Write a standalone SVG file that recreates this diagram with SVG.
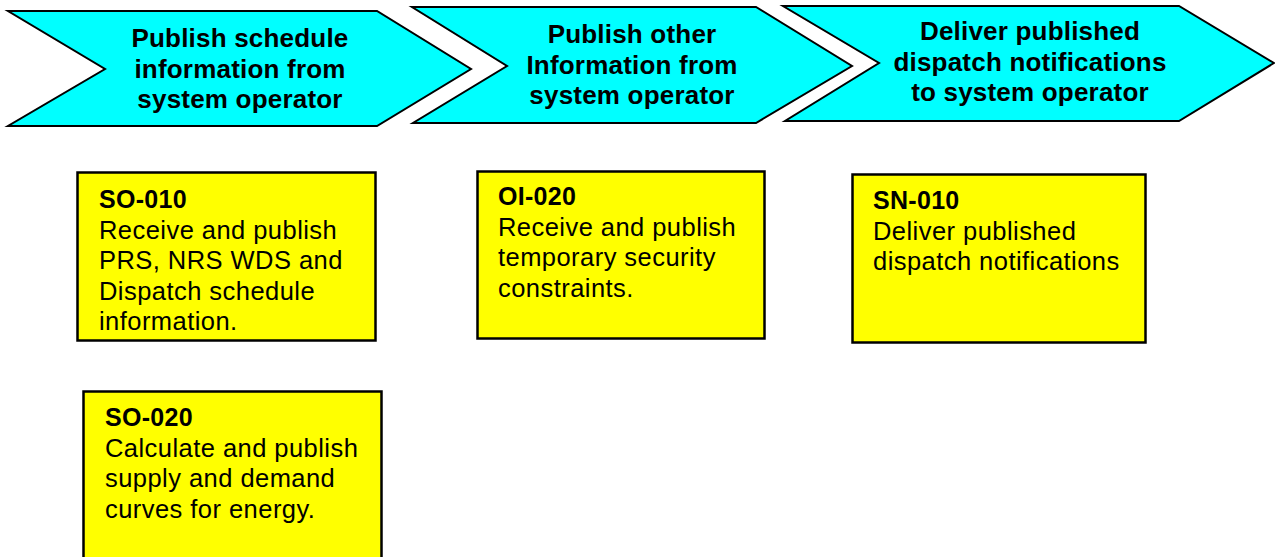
<svg xmlns="http://www.w3.org/2000/svg" width="1275" height="557" viewBox="0 0 1275 557">
<style>
.chev{fill:#00ffff;stroke:#000;stroke-width:2;stroke-linejoin:miter}
.box{fill:#ffff00;stroke:#000;stroke-width:2.5}
.ct{font-family:"Liberation Sans",Arial,sans-serif;font-weight:bold;font-size:26px;text-anchor:middle;fill:#000;letter-spacing:0.2px}
.id{font-family:"Liberation Sans",Arial,sans-serif;font-weight:bold;font-size:25px;fill:#000;letter-spacing:0.3px}
.bt{font-family:"Liberation Sans",Arial,sans-serif;font-size:25.5px;fill:#000;letter-spacing:0.45px}
</style>
<rect width="1275" height="557" fill="#fff"/>
<g id="step1">
<polygon class="chev" points="8,11 377,11 471,69 377,126 8,126 105,69"/>
<text class="ct" x="240" y="47">Publish schedule</text>
<text class="ct" x="240" y="78">information from</text>
<text class="ct" x="240" y="108">system operator</text>
</g>
<g id="step2">
<polygon class="chev" points="412,7 756,7 852,66 756,123 413,123 507,66"/>
<text class="ct" x="632" y="43">Publish other</text>
<text class="ct" x="632" y="74">Information from</text>
<text class="ct" x="632" y="104">system operator</text>
</g>
<g id="step3">
<polygon class="chev" points="783,6 1179,6 1274,63 1179,121 785,121 879,63"/>
<text class="ct" x="1030" y="40">Deliver published</text>
<text class="ct" x="1030" y="71">dispatch notifications</text>
<text class="ct" x="1030" y="101">to system operator</text>
</g>
<g id="SO-010">
<rect class="box" x="77.5" y="172.5" width="298" height="168"/>
<text class="id" x="99" y="208">SO-010</text>
<text class="bt" x="99" y="239">Receive and publish</text>
<text class="bt" x="99" y="269">PRS, NRS WDS and</text>
<text class="bt" x="99" y="300">Dispatch schedule</text>
<text class="bt" x="99" y="330">information.</text>
</g>
<g id="OI-020">
<rect class="box" x="477.5" y="171.5" width="287" height="167"/>
<text class="id" x="498" y="205">OI-020</text>
<text class="bt" x="498" y="236">Receive and publish</text>
<text class="bt" x="498" y="266">temporary security</text>
<text class="bt" x="498" y="297">constraints.</text>
</g>
<g id="SN-010">
<rect class="box" x="852.5" y="174.5" width="293" height="168"/>
<text class="id" x="873" y="209">SN-010</text>
<text class="bt" x="873" y="240">Deliver published</text>
<text class="bt" x="873" y="270">dispatch notifications</text>
</g>
<g id="SO-020">
<rect class="box" x="83.5" y="391.5" width="298" height="180"/>
<text class="id" x="105" y="426">SO-020</text>
<text class="bt" x="105" y="457">Calculate and publish</text>
<text class="bt" x="105" y="487">supply and demand</text>
<text class="bt" x="105" y="518">curves for energy.</text>
</g>
<g id="connectors"></g>
</svg>
